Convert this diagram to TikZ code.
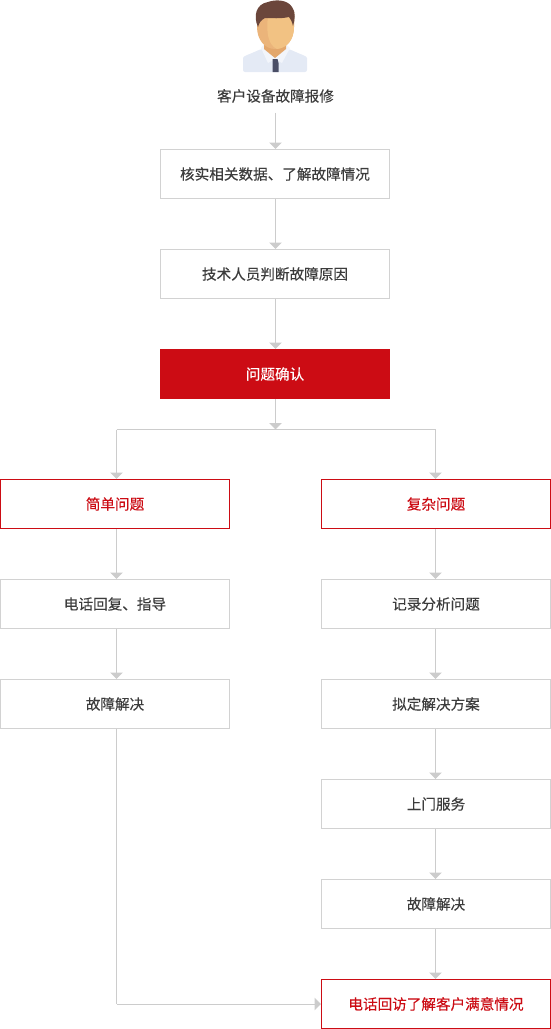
\documentclass[tikz,border=0pt]{standalone}
\usepackage{fontspec}
\usetikzlibrary{arrows.meta}
\setmainfont{Noto Sans CJK SC}
\newfontfamily\labelfont[FakeBold=0.25]{Noto Sans CJK SC}
\definecolor{linegray}{HTML}{CCCCCC}
\definecolor{boxgray}{HTML}{D2D2D2}
\definecolor{brandred}{HTML}{CC0C14}
\definecolor{txt}{HTML}{3C3C3C}
\definecolor{shirt}{HTML}{E4EAF5}
\definecolor{collar}{HTML}{F2F5FB}
\definecolor{tie}{HTML}{4A4E66}
\definecolor{neck}{HTML}{E3A76C}
\definecolor{faceL}{HTML}{EBB47A}
\definecolor{faceR}{HTML}{F2C283}
\definecolor{hair}{HTML}{6B463B}
\tikzset{
  base/.style={minimum width=229pt,minimum height=49pt,inner sep=0pt,font=\labelfont\fontsize{14.6}{16}\selectfont,line width=1pt},
  graybox/.style={base,draw=boxgray,fill=white,text=txt},
  redbox/.style={base,draw=brandred,fill=white,text=brandred},
  solidbox/.style={base,draw=brandred,fill=brandred,text=white},
  link/.style={draw=linegray,line width=1pt,-{Triangle[width=12.5pt,length=6.5pt,color=linegray]}},
  plain/.style={draw=linegray,line width=1pt},
}
\begin{document}
\begin{tikzpicture}[x=1pt,y=-1pt]
\useasboundingbox (0,0) rectangle (551,1029);
% person
\fill[rounded corners=2pt,shirt] (243,72) -- (243,60) .. controls (243,56) and (248,55) .. (261,49) -- (289,49) .. controls (302,55) and (307,56) .. (307,60) -- (307,72) -- cycle;
\fill[collar] (261,48) -- (268,63) -- (275,59) -- (282,63) -- (290,48) -- (286,44) -- (264,44) -- cycle;
\fill[tie] (272.5,59) -- (277.5,59) -- (278.5,63) -- (278.5,72) -- (272.5,72) -- (272.5,63) -- cycle;
\fill[neck] (264,42) -- (286,42) -- (286,49) -- (275,58) -- (264,49) -- cycle;
\fill[faceL] (257,20) -- (257,27) .. controls (257,40) and (265,49) .. (275,49) .. controls (286,49) and (294,40) .. (294,27) -- (294,12) -- (257,12) -- cycle;
\fill[faceR] (268,16) .. controls (266,32) and (268,45) .. (277,49) .. controls (287,48) and (294,40) .. (294,27) -- (294,12) -- (268,12) -- cycle;
\fill[hair] (258,27) .. controls (253,16) and (256,4) .. (268,2) .. controls (276,-1) and (288,0) .. (292,7) .. controls (296,12) and (295,20) .. (293,26) .. controls (292,22) and (291,19) .. (289,17) .. controls (280,19) and (272,18) .. (265,18) .. controls (261,20) and (259,23) .. (258,27) -- cycle;
% label and boxes
\coordinate (axis) at (275.5,0);
\node[font=\labelfont\fontsize{14.6}{16}\selectfont,text=txt,inner sep=0pt,minimum height=33pt,minimum width=118pt] (client) at (275.5,96) {客户设备故障报修};
\node[graybox] (check) at (275,174) {核实相关数据、了解故障情况};
\node[graybox] (tech) at (275,274) {技术人员判断故障原因};
\node[solidbox] (confirm) at (275,374) {问题确认};
\coordinate (split) at (275.5,429.5);
\coordinate (splitL) at (116.5,429.5);
\coordinate (splitR) at (435.5,429.5);
\node[redbox] (simple) at (115,504) {简单问题};
\node[graybox] (phone) at (115,604) {电话回复、指导};
\node[graybox] (fixL) at (115,704) {故障解决};
\node[redbox] (complex) at (436,504) {复杂问题};
\node[graybox] (record) at (436,604) {记录分析问题};
\node[graybox] (plan) at (436,704) {拟定解决方案};
\node[graybox] (visit) at (436,804) {上门服务};
\node[graybox] (fixR) at (436,904) {故障解决};
\node[redbox] (callback) at (436,1004) {电话回访了解客户满意情况};
\coordinate (corner) at (116.5,1004);
% connectors
\draw[link] (client.south) -- (check.north -| client.south);
\draw[link] (check.south -| axis) -- (tech.north -| axis);
\draw[link] (tech.south -| axis) -- (confirm.north -| axis);
\draw[link] (confirm.south -| axis) -- (split);
\draw[plain] (splitL) -- (splitR);
\draw[link] (splitL) -- (simple.north -| splitL);
\draw[link] (splitR) -- (complex.north -| splitR);
\draw[link] (simple.south -| splitL) -- (phone.north -| splitL);
\draw[link] (phone.south -| splitL) -- (fixL.north -| splitL);
\draw[link] (complex.south -| splitR) -- (record.north -| splitR);
\draw[link] (record.south -| splitR) -- (plan.north -| splitR);
\draw[link] (plan.south -| splitR) -- (visit.north -| splitR);
\draw[link] (visit.south -| splitR) -- (fixR.north -| splitR);
\draw[link] (fixR.south -| splitR) -- (callback.north -| splitR);
\draw[plain] (fixL.south -| corner) -- (corner);
\draw[link] (corner) -- (callback.west);
\end{tikzpicture}
\end{document}
